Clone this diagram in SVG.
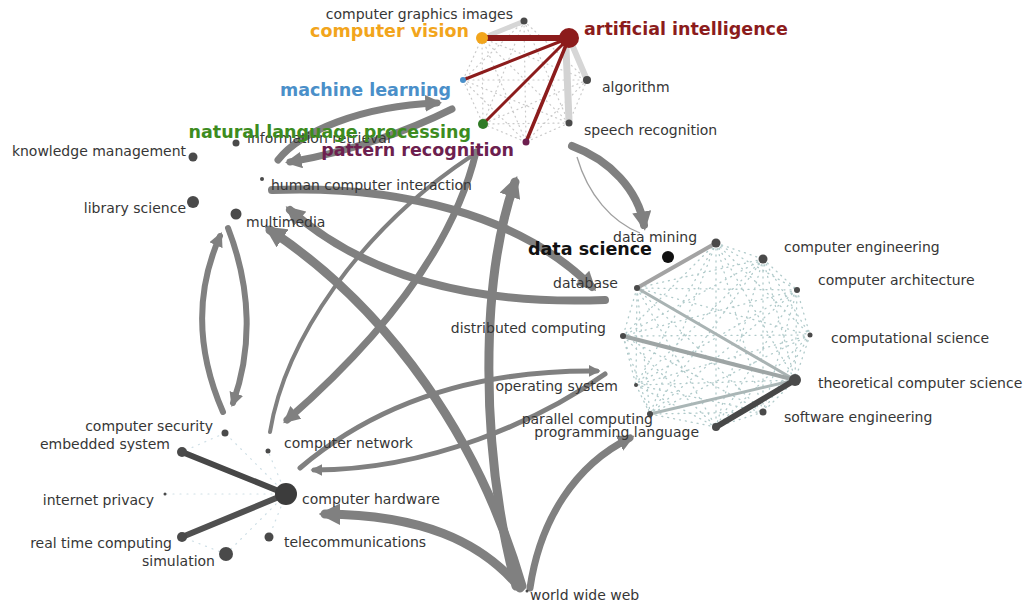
<svg xmlns="http://www.w3.org/2000/svg" width="1029" height="607" viewBox="0 0 1029 607">
  <style>
    text { font-family: "DejaVu Sans", "Liberation Sans", sans-serif; font-size: 14px; fill: #363636; }
    .big { font-size: 17.5px; font-weight: 700; }
    .r { text-anchor: end; }
    .dot { fill: #4a4a4a; }
    .flow { fill: none; stroke: #808080; stroke-linecap: round; }
    .web { fill: none; stroke-linecap: round; }
    .ai { stroke: #8c1c1c; stroke-linecap: round; }
  </style>
  <defs>
    <marker id="head" viewBox="0 0 10 10" refX="7" refY="5" markerWidth="2.4" markerHeight="2.4" orient="auto" markerUnits="strokeWidth">
      <path d="M0,0 L10,5 L0,10 z" fill="#808080"/>
    </marker>
  </defs>
  <rect width="1029" height="607" fill="#ffffff"/>

  <g id="connectors">
    <!-- faint dotted webs inside the three clusters -->
    <path class="web" stroke="#b4b4b4" stroke-width="1.2" stroke-dasharray="1 4" opacity="0.7" d="M524 21L482 38M524 21L463 80M524 21L587 80M524 21L483 124M524 21L569 123M524 21L526 142M482 38L463 80M482 38L587 80M482 38L483 124M482 38L569 123M482 38L526 142M463 80L587 80M463 80L483 124M463 80L569 123M463 80L526 142M587 80L483 124M587 80L569 123M587 80L526 142M483 124L569 123M483 124L526 142M569 123L526 142"/>
    <path class="web" stroke="#8fb3b3" stroke-width="1.3" stroke-dasharray="1 5" opacity="0.7" d="M716 243L763 259M716 243L797 290M716 243L637 288M716 243L810 335M716 243L623 336M716 243L795 380M716 243L636 385M716 243L763 412M716 243L650 414M716 243L716 427M763 259L797 290M763 259L637 288M763 259L810 335M763 259L623 336M763 259L795 380M763 259L636 385M763 259L763 412M763 259L650 414M763 259L716 427M797 290L637 288M797 290L810 335M797 290L623 336M797 290L795 380M797 290L636 385M797 290L763 412M797 290L650 414M797 290L716 427M637 288L810 335M637 288L623 336M637 288L795 380M637 288L636 385M637 288L763 412M637 288L650 414M637 288L716 427M810 335L623 336M810 335L795 380M810 335L636 385M810 335L763 412M810 335L650 414M810 335L716 427M623 336L795 380M623 336L636 385M623 336L763 412M623 336L650 414M623 336L716 427M795 380L636 385M795 380L763 412M795 380L650 414M795 380L716 427M636 385L763 412M636 385L650 414M636 385L716 427M763 412L650 414M763 412L716 427M650 414L716 427"/>
    <path class="web" stroke="#a8c4d2" stroke-width="1.2" stroke-dasharray="1 6" opacity="0.55" d="M286 494L225 433M286 494L268 451M286 494L165 494M286 494L269 537M286 494L226 554M225 433L182 452M226 554L182 537"/>

    <!-- light bands in the AI cluster -->
    <path stroke="#d6d6d6" stroke-width="5" stroke-linecap="round" d="M490 35L522 22"/>
    <path stroke="#d6d6d6" stroke-width="6" stroke-linecap="round" d="M573 47L587 80"/>
    <path stroke="#d3d3d3" stroke-width="7" stroke-linecap="round" d="M566 48L569 121"/>

    <!-- artificial intelligence links -->
    <path class="ai" stroke-width="6" d="M569 38L482 38"/>
    <path class="ai" stroke-width="3" d="M569 38L463 80"/>
    <path class="ai" stroke-width="3" d="M569 38L483 124"/>
    <path class="ai" stroke-width="3.5" d="M569 38L526 142"/>

    <!-- data science cluster links -->
    <path stroke="#a3a3a3" stroke-width="4" stroke-linecap="round" d="M716 243L637 288"/>
    <path stroke="#a9b3b3" stroke-width="3" stroke-linecap="round" d="M637 288L795 380"/>
    <path stroke="#9ea5a5" stroke-width="4" stroke-linecap="round" d="M623 336L795 380"/>
    <path stroke="#aab6b6" stroke-width="3" stroke-linecap="round" d="M650 414L795 380"/>
    <path stroke="#474747" stroke-width="6" stroke-linecap="round" d="M795 380L716 427"/>

    <!-- computer hardware cluster links -->
    <path stroke="#474747" stroke-width="6" stroke-linecap="round" d="M182 452L286 494"/>
    <path stroke="#505050" stroke-width="6" stroke-linecap="round" d="M182 537L286 494"/>

    <!-- flows between clusters -->
    <path class="flow" stroke-width="7" marker-end="url(#head)" d="M278 160C300 132 360 106 437 103"/>
    <path class="flow" stroke-width="7" marker-end="url(#head)" d="M452 109C410 130 350 152 290 162"/>
    <path class="flow" stroke-width="6" marker-end="url(#head)" d="M223 412C196 350 196 290 220 236"/>
    <path class="flow" stroke-width="6" marker-end="url(#head)" d="M228 228C252 290 252 350 233 403"/>
    <path class="flow" stroke-width="8" marker-end="url(#head)" d="M272 190C400 185 520 215 592 287"/>
    <path class="flow" stroke-width="8" marker-end="url(#head)" d="M605 300C480 305 370 280 290 210"/>
    <path class="flow" stroke-width="9" marker-end="url(#head)" d="M522 586C480 440 390 310 270 230"/>
    <path class="flow" stroke-width="9" marker-end="url(#head)" d="M516 586C480 450 480 280 515 182"/>
    <path class="flow" stroke-width="7" marker-end="url(#head)" d="M476 152C455 240 390 330 287 420"/>
    <path class="flow" stroke-width="4" d="M270 432C285 340 360 230 470 157"/>
    <path class="flow" stroke-width="5" marker-end="url(#head)" d="M300 468C380 400 480 370 597 371"/>
    <path class="flow" stroke-width="5" marker-end="url(#head)" d="M605 374C540 420 430 470 314 470"/>
    <path class="flow" stroke-width="9" marker-end="url(#head)" d="M520 588C480 540 420 515 325 514"/>
    <path class="flow" stroke-width="7" marker-end="url(#head)" d="M530 588C540 520 575 465 630 438"/>
    <path class="flow" stroke-width="8" marker-end="url(#head)" d="M572 146C610 160 638 190 644 225"/>
    <path fill="none" stroke="#a0a0a0" stroke-width="1.3" d="M577 157C588 195 612 222 640 233"/>
  </g>

  <!-- artificial intelligence cluster -->
  <g id="computer-graphics-images"><circle class="dot" cx="524" cy="21" r="3.5" fill="#555"/><text class="r" x="513" y="19">computer graphics images</text></g>
  <g id="computer-vision"><circle cx="482" cy="38" r="6" fill="#f2a51c"/><text class="big r" x="469" y="37" style="fill:#f2a51c">computer vision</text></g>
  <g id="artificial-intelligence"><circle cx="569" cy="38" r="10" fill="#8c1c1c"/><text class="big" x="584" y="35" style="fill:#8c1c1c">artificial intelligence</text></g>
  <g id="machine-learning"><circle cx="463" cy="80" r="3" fill="#4a8fc9"/><text class="big r" x="451" y="96" style="fill:#4a8fc9">machine learning</text></g>
  <g id="algorithm"><circle class="dot" cx="587" cy="80" r="4"/><text x="602" y="92">algorithm</text></g>
  <g id="information-retrieval"><circle class="dot" cx="236" cy="143" r="3.5"/><text x="247" y="143">information retrieval</text></g>
  <g id="natural-language-processing"><circle cx="483" cy="124" r="5" fill="#2f7a25"/><text class="big r" x="471" y="138" style="fill:#3d8c1f">natural language processing</text></g>
  <g id="speech-recognition"><circle class="dot" cx="569" cy="123" r="3.5"/><text x="584" y="135">speech recognition</text></g>
  <g id="pattern-recognition"><circle cx="526" cy="142" r="3.5" fill="#6d1f4f"/><text class="big r" x="514" y="156" style="fill:#6d1f4f">pattern recognition</text></g>

  <!-- left group -->
  <g id="knowledge-management"><circle class="dot" cx="193" cy="157" r="4.5"/><text class="r" x="186" y="156">knowledge management</text></g>
  <g id="human-computer-interaction"><circle class="dot" cx="262" cy="179" r="2"/><text x="271" y="190">human computer interaction</text></g>
  <g id="library-science"><circle class="dot" cx="193" cy="202" r="6"/><text class="r" x="186" y="213">library science</text></g>
  <g id="multimedia"><circle class="dot" cx="236" cy="214" r="5.5"/><text x="246" y="227">multimedia</text></g>

  <!-- data science cluster -->
  <g id="data-mining"><circle class="dot" cx="716" cy="243" r="4.5"/><text x="613" y="242">data mining</text></g>
  <g id="data-science"><circle cx="668" cy="257" r="6" fill="#111"/><text class="big r" x="652" y="255" style="fill:#111">data science</text></g>
  <g id="computer-engineering"><circle class="dot" cx="763" cy="259" r="4.5"/><text x="784" y="252">computer engineering</text></g>
  <g id="computer-architecture"><circle class="dot" cx="797" cy="290" r="3"/><text x="818" y="285">computer architecture</text></g>
  <g id="database"><circle class="dot" cx="637" cy="288" r="3"/><text class="r" x="618" y="288">database</text></g>
  <g id="computational-science"><circle class="dot" cx="810" cy="335" r="2.5"/><text x="831" y="343">computational science</text></g>
  <g id="distributed-computing"><circle class="dot" cx="623" cy="336" r="3"/><text class="r" x="606" y="333">distributed computing</text></g>
  <g id="theoretical-computer-science"><circle class="dot" cx="795" cy="380" r="6"/><text x="818" y="388">theoretical computer science</text></g>
  <g id="operating-system"><circle class="dot" cx="636" cy="385" r="2"/><text class="r" x="618" y="391">operating system</text></g>
  <g id="software-engineering"><circle class="dot" cx="763" cy="412" r="3.5"/><text x="784" y="422">software engineering</text></g>
  <g id="parallel-computing"><circle class="dot" cx="650" cy="414" r="3"/><text class="r" x="653" y="424">parallel computing</text></g>
  <g id="programming-language"><circle class="dot" cx="716" cy="427" r="4"/><text class="r" x="699" y="437">programming language</text></g>

  <!-- computer hardware cluster -->
  <g id="computer-security"><circle class="dot" cx="225" cy="433" r="3.5"/><text class="r" x="213" y="431">computer security</text></g>
  <g id="embedded-system"><circle class="dot" cx="182" cy="452" r="5"/><text class="r" x="170" y="449">embedded system</text></g>
  <g id="computer-network"><circle class="dot" cx="268" cy="451" r="2.5"/><text x="284" y="448">computer network</text></g>
  <g id="internet-privacy"><circle class="dot" cx="165" cy="494" r="1.5"/><text class="r" x="154" y="505">internet privacy</text></g>
  <g id="computer-hardware"><circle cx="286" cy="494" r="11" fill="#3c3c3c"/><text x="302" y="504">computer hardware</text></g>
  <g id="real-time-computing"><circle class="dot" cx="182" cy="537" r="5"/><text class="r" x="172" y="548">real time computing</text></g>
  <g id="telecommunications"><circle class="dot" cx="269" cy="537" r="4.5"/><text x="284" y="547">telecommunications</text></g>
  <g id="simulation"><circle class="dot" cx="226" cy="554" r="7"/><text class="r" x="215" y="566">simulation</text></g>
  <g id="world-wide-web"><circle class="dot" cx="527" cy="591" r="1.5"/><text x="530" y="600">world wide web</text></g>
</svg>
